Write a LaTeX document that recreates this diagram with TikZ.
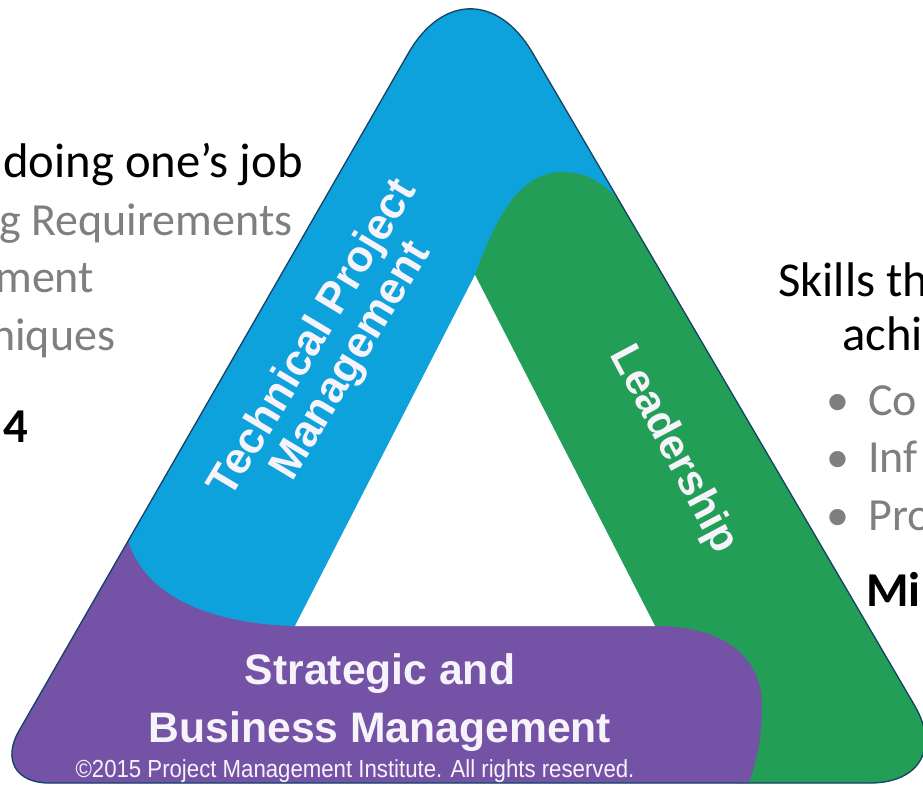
\documentclass[tikz,border=0pt]{standalone}
\usepackage{fontspec}
\setmainfont{Carlito}
\newfontfamily\pmisans{Liberation Sans}
\usepackage{xcolor}
\definecolor{tpmblue}{RGB}{14,162,221}
\definecolor{leadgreen}{RGB}{34,158,86}
\definecolor{sbmpurple}{RGB}{116,82,166}
\definecolor{rimnavy}{RGB}{22,66,104}
\definecolor{txtgray}{RGB}{127,127,127}
\definecolor{bandwhite}{RGB}{246,244,250}

\tikzset{
  headtxt/.style={anchor=base west,inner sep=0pt,font=\fontsize{36.5}{40}\selectfont},
  boldtxt/.style={headtxt,font=\bfseries\fontsize{36.5}{40}\selectfont},
  graytxt/.style={anchor=base west,inner sep=0pt,text=txtgray,font=\fontsize{34.5}{38}\selectfont},
  bullettxt/.style={anchor=base,inner sep=0pt,text=txtgray,font=\fontsize{34.5}{38}\selectfont},
  bandtxt/.style={text=bandwhite,inner sep=0pt,align=center,font=\pmisans\bfseries\fontsize{32}{33}\selectfont},
  copytxt/.style={anchor=base,inner sep=0pt,text=bandwhite,xscale=0.9,font=\pmisans\fontsize{18.5}{20}\selectfont},
}

\begin{document}
\begin{tikzpicture}[x=0.75pt,y=0.75pt,yscale=-1]
%set diagram to 923 x 787
\path [use as bounding box] (0,0) rectangle (923,787);

\begin{scope}
%Shape: Rounded Triangle (clip)
\clip (49,783) -- (870,783) .. controls (919.7,783) and (939.6,748.2) .. (914.5,705.3) -- (532.6,53) .. controls (498,-6.1) and (442.3,-5.9) .. (408.2,53.5) -- (18.9,731) .. controls (2.4,759.7) and (15.9,783) .. (49,783) -- cycle ;
%Shape: Rectangle (blue base)
\fill [tpmblue] (-20,-60) rectangle (980,800) ;
%Shape: Polygon Curved (green band)
\fill [leadgreen] (475,275) .. controls (500,205) and (525,172) .. (563,172) .. controls (597,172) and (617,195) .. (642,228) -- (1000,180) -- (1000,800) -- (744,800) -- cycle ;
%Shape: Polygon Curved (purple band)
\fill [sbmpurple] (-20,440) -- (330,440) -- (330,626) -- (655,626) .. controls (728,626) and (762,660) .. (762,706) .. controls (762,745) and (754,772) .. (742,800) -- (-20,800) -- cycle ;
%Shape: Polygon Curved (blue band end)
\fill [tpmblue] (420,400) -- (295,626) .. controls (215,624) and (142,598) .. (127,536) -- (30,400) -- cycle ;
%Shape: Triangle (inner hole)
\fill [white] (475,275) -- (655,626) -- (295,626) -- cycle ;
\end{scope}
%Shape: Rounded Triangle (rim)
\draw [rimnavy,line width=1] (49,783) -- (870,783) .. controls (919.7,783) and (939.6,748.2) .. (914.5,705.3) -- (532.6,53) .. controls (498,-6.1) and (442.3,-5.9) .. (408.2,53.5) -- (18.9,731) .. controls (2.4,759.7) and (15.9,783) .. (49,783) -- cycle ;

% Text Node
\draw (333,350) node [bandtxt,rotate=59,font=\pmisans\bfseries\fontsize{33}{33}\selectfont] (tpmlabel) {Technical Project\\Management};
% Text Node
\draw (673,450) node [bandtxt,rotate=-62] (leadlabel) {Leadership};
% Text Node
\draw (380,684) node [bandtxt,anchor=base] (sbmtop) {Strategic and};
% Text Node
\draw (380,742) node [bandtxt,anchor=base] (sbmbottom) {Business Management};
% Text Node
\draw (355,777) node [copytxt] (pmicopy) {©2015 Project Management Institute. All rights reserved.};

% Text Node
\draw (3,178) node [headtxt] (jobhead) {doing one’s job};
% Text Node
\draw (-1,236) node [graytxt] (reqline) {g Requirements};
% Text Node
\draw (-5,293) node [graytxt] (mentline) {ment};
% Text Node
\draw (-9,350) node [graytxt] (niqline) {niques};
% Text Node
\draw (3,442) node [boldtxt] (fourline) {4};

% Text Node
\draw (778,297) node [headtxt] (skillhead) {Skills th};
% Text Node
\draw (842,350) node [headtxt] (achihead) {achi};
% Text Nodes (bullets)
\foreach \y/\txt/\nm in {415/Co/co,472/Inf/inf,530/Pro/pro}{
  \draw (838,\y) node [bullettxt] (dot\nm) {•};
  \draw (868,\y) node [graytxt] (\nm line) {\txt};
}
% Text Node
\draw (866,606) node [boldtxt] (mihead) {Mi};

\end{tikzpicture}
\end{document}
